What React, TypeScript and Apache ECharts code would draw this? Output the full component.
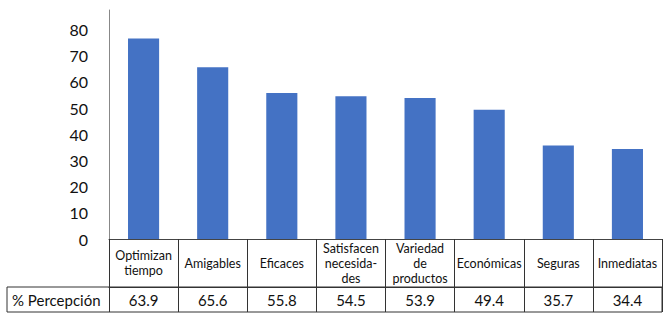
import React, { useEffect, useRef } from "react";
import * as echarts from "echarts";

const categories = [
  "Optimizan\ntiempo",
  "Amigables",
  "Eficaces",
  "Satisfacen\nnecesida-\ndes",
  "Variedad\nde\nproductos",
  "Económicas",
  "Seguras",
  "Inmediatas",
];
// bar heights as drawn in the picture
const barValues = [76.6, 65.6, 55.8, 54.5, 53.9, 49.4, 35.7, 34.4];
// values printed in the data table
const tableLabels = ["63.9", "65.6", "55.8", "54.5", "53.9", "49.4", "35.7", "34.4"];
const rowHeader = "% Percepción";

const FONT = "Lato, 'Liberation Sans', sans-serif";

export default function App() {
  const ref = useRef<HTMLDivElement>(null);
  useEffect(() => {
    if (!ref.current) return;
    const chart = echarts.init(ref.current, undefined, { renderer: "svg" });
    const gridLeft = 109;
    const gridRight = 1;
    const gridTop = 10;
    const gridBottom = 74;
    const W = 663;
    const H = 313;
    const axisY = H - gridBottom;
    chart.setOption({
      animation: false,
      textStyle: { fontFamily: FONT },
      grid: { left: gridLeft, right: gridRight, top: gridTop, bottom: gridBottom },
      xAxis: [
        {
          type: "category",
          data: categories,
          position: "bottom",
          axisLine: { show: true, lineStyle: { color: "#444", width: 1 } },
          axisTick: { show: true, interval: 0, length: 48, lineStyle: { color: "#333" } },
          axisLabel: {
            interval: 0,
            margin: 24,
            verticalAlign: "middle",
            fontSize: 12.5,
            lineHeight: 15,
            color: "#111",
            fontFamily: FONT,
          },
        },
        {
          type: "category",
          data: tableLabels,
          position: "bottom",
          offset: 48,
          axisLine: { show: true, lineStyle: { color: "#333", width: 1 } },
          axisTick: { show: true, interval: 0, length: 25, lineStyle: { color: "#333" } },
          axisLabel: {
            interval: 0,
            margin: 13,
            verticalAlign: "middle",
            fontSize: 15,
            color: "#111",
            fontFamily: FONT,
          },
        },
      ],
      yAxis: {
        type: "value",
        min: 0,
        max: 87.5,
        interval: 10,
        axisLine: { show: true, lineStyle: { color: "#888" } },
        axisTick: { show: false },
        splitLine: { show: false },
        axisLabel: {
          margin: 21,
          fontSize: 16,
          color: "#111",
          fontFamily: FONT,
          formatter: (v: number) => (v % 10 === 0 ? String(v) : ""),
        },
      },
      series: [
        {
          type: "bar",
          data: barValues,
          xAxisIndex: 0,
          barWidth: "45%",
          itemStyle: { color: "#4472C4" },
        },
      ],
      graphic: [
        {
          type: "rect",
          shape: { x: 7, y: axisY + 48, width: W - gridRight - 7, height: 25 },
          style: { fill: "none", stroke: "#333", lineWidth: 1 },
        },
        {
          type: "text",
          x: 12,
          y: axisY + 48 + 12.5,
          style: {
            text: rowHeader,
            fontSize: 15,
            fontFamily: FONT,
            fill: "#111",
            verticalAlign: "middle",
            align: "left",
          },
        },
      ],
    });
    return () => chart.dispose();
  }, []);
  return (
    <div
      ref={ref}
      style={{ position: "absolute", left: 0, top: 0, width: 663, height: 313, background: "#fff" }}
    />
  );
}
